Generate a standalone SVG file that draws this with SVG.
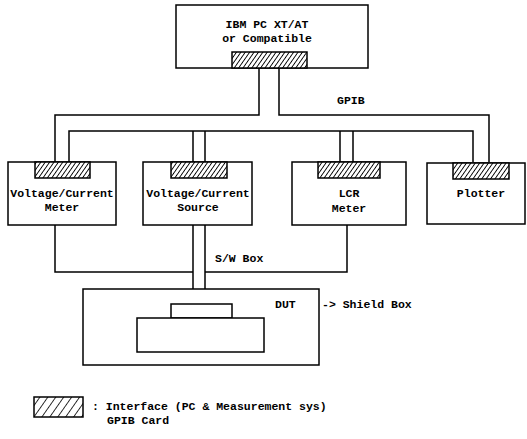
<svg xmlns="http://www.w3.org/2000/svg" width="527" height="439" viewBox="0 0 527 439">
<defs>
<pattern id="hatch" patternUnits="userSpaceOnUse" width="3.6" height="3.6" patternTransform="rotate(35)">
<rect width="3.6" height="3.6" fill="#fff"/>
<line x1="0" y1="0" x2="0" y2="3.6" stroke="#000" stroke-width="1.8"/>
</pattern>
<pattern id="hatchL" patternUnits="userSpaceOnUse" width="6.5" height="6.5" patternTransform="rotate(35)">
<rect width="6.5" height="6.5" fill="#fff"/>
<line x1="0" y1="0" x2="0" y2="6.5" stroke="#000" stroke-width="1.6"/>
</pattern>
</defs>
<style>
.box{fill:#fff;stroke:#000;stroke-width:1.5}
.ifc{fill:url(#hatch);stroke:#000;stroke-width:1.5}
.ln{fill:none;stroke:#000;stroke-width:1.5}
text{font-family:"Liberation Mono","DejaVu Sans Mono",monospace;font-weight:bold;font-size:11.5px;fill:#000}
.c{text-anchor:middle}
</style>
<rect width="527" height="439" fill="#fff"/>
<g id="connectors">
<path class="ln" d="M259,68 V115 H55 V162 M279,68 V115 H489 V162"/>
<path class="ln" d="M69,162 V131 H473 V162"/>
<path class="ln" d="M193,131 V162 M205,131 V162"/>
<path class="ln" d="M340,131 V162 M353,131 V162"/>
<path class="ln" d="M55,225 V272 H193 M193,225 V289 M205,225 V289 M205,272 H347 V225"/>
</g>
<g id="pc">
<rect class="box" x="176" y="5" width="192" height="63"/>
<rect class="ifc" x="232" y="52" width="75" height="16"/>
<text class="c" x="267" y="28" font-size="10.5">IBM PC XT/AT</text>
<text class="c" x="267" y="42" font-size="10.5">or Compatible</text>
</g>
<text x="337" y="104" font-size="10.5">GPIB</text>
<g id="vcmeter">
<rect class="box" x="8" y="162" width="108" height="63"/>
<rect class="ifc" x="35" y="162" width="55" height="16"/>
<text class="c" x="62" y="197">Voltage/Current</text>
<text class="c" x="62" y="211">Meter</text>
</g>
<g id="vcsource">
<rect class="box" x="143" y="162" width="109" height="63"/>
<rect class="ifc" x="171" y="162" width="56" height="16"/>
<text class="c" x="198" y="197">Voltage/Current</text>
<text class="c" x="198" y="211">Source</text>
</g>
<g id="lcr">
<rect class="box" x="292" y="162" width="114" height="63"/>
<rect class="ifc" x="318" y="162" width="62" height="16"/>
<text class="c" x="349" y="197">LCR</text>
<text class="c" x="349" y="212">Meter</text>
</g>
<g id="plotter">
<rect class="box" x="427" y="163" width="98" height="61"/>
<rect class="ifc" x="453" y="163" width="56" height="16"/>
<text class="c" x="481" y="197">Plotter</text>
</g>
<text x="215" y="262">S/W Box</text>
<g id="dut">
<rect class="box" x="83" y="289" width="236" height="76"/>
<rect class="box" x="171" y="304" width="61" height="14"/>
<rect class="box" x="137" y="318" width="127" height="34"/>
<text x="275" y="308">DUT</text>
</g>
<text x="322" y="308">-&gt; Shield Box</text>
<g id="legend">
<rect x="34" y="397" width="49" height="20" fill="url(#hatchL)" stroke="#000" stroke-width="1.5"/>
<text x="92" y="410">: Interface (PC &amp; Measurement sys)</text>
<text x="107" y="424">GPIB Card</text>
</g>
</svg>
